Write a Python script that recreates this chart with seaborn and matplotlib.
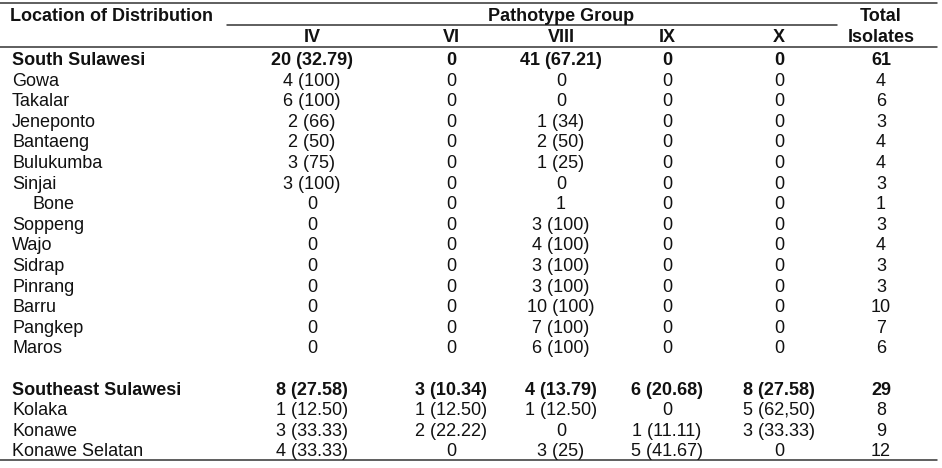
import matplotlib
matplotlib.use("Agg")
import matplotlib.pyplot as plt
import seaborn as sns

# table data
locations = ["South Sulawesi", "Gowa", "Takalar", "Jeneponto", "Bantaeng", "Bulukumba",
             "Sinjai", "Bone", "Soppeng", "Wajo", "Sidrap", "Pinrang", "Barru", "Pangkep",
             "Maros", "", "Southeast Sulawesi", "Kolaka", "Konawe", "Konawe Selatan"]
group_iv = ["20 (32.79)", "4 (100)", "6 (100)", "2 (66)", "2 (50)", "3 (75)", "3 (100)",
            "0", "0", "0", "0", "0", "0", "0", "0", "",
            "8 (27.58)", "1 (12.50)", "3 (33.33)", "4 (33.33)"]
group_vi = ["0", "0", "0", "0", "0", "0", "0", "0", "0", "0", "0", "0", "0", "0", "0", "",
            "3 (10.34)", "1 (12.50)", "2 (22.22)", "0"]
group_viii = ["41 (67.21)", "0", "0", "1 (34)", "2 (50)", "1 (25)", "0", "1", "3 (100)",
              "4 (100)", "3 (100)", "3 (100)", "10 (100)", "7 (100)", "6 (100)", "",
              "4 (13.79)", "1 (12.50)", "0", "3 (25)"]
group_ix = ["0", "0", "0", "0", "0", "0", "0", "0", "0", "0", "0", "0", "0", "0", "0", "",
            "6 (20.68)", "0", "1 (11.11)", "5 (41.67)"]
group_x = ["0", "0", "0", "0", "0", "0", "0", "0", "0", "0", "0", "0", "0", "0", "0", "",
           "8 (27.58)", "5 (62,50)", "3 (33.33)", "0"]
total_isolates = ["61", "4", "6", "3", "4", "4", "3", "1", "3", "4", "3", "3", "10", "7", "6", "",
                  "29", "8", "9", "12"]
group_labels = ["IV", "VI", "VIII", "IX", "X"]
bold_rows = ["South Sulawesi", "Southeast Sulawesi"]

sns.set_theme(style="white")
plt.rcParams["font.family"] = ["Liberation Sans", "DejaVu Sans"]

fig = plt.figure(figsize=(9.42, 4.68), dpi=100)
ax = fig.add_axes([0, 0, 1, 1])
ax.set_xlim(0, 942)
ax.set_ylim(468, 0)
ax.axis("off")

fs = 13
ink = "#111111"
line_c = "#333333"
col_x = [312, 451, 561, 667, 779]
total_x = 881
row0, step = 60.5, 20.6
dy = 2.5  # va="center" sits a little high

# rules
ax.plot([0, 937], [3, 3], color=line_c, lw=1.1)
ax.plot([227, 837], [24.5, 24.5], color=line_c, lw=1.1)
ax.plot([0, 937], [47, 47], color=line_c, lw=1.1)
ax.plot([0, 937], [459.5, 459.5], color=line_c, lw=1.1)

# header
ax.text(10, 14 + dy, "Location of Distribution", fontsize=fs, fontweight="bold", color=ink, va="center")
ax.text(col_x[2], 14 + dy, "Pathotype Group", fontsize=fs, fontweight="bold", color=ink, ha="center", va="center")
ax.text(total_x, 14 + dy, "Total", fontsize=fs, fontweight="bold", color=ink, ha="center", va="center")
ax.text(total_x, 35 + dy, "Isolates", fontsize=fs, fontweight="bold", color=ink, ha="center", va="center")
for x, lab in zip(col_x, group_labels):
    ax.text(x, 35 + dy, lab, fontsize=fs, fontweight="bold", color=ink, ha="center", va="center")

# body
columns = [group_iv, group_vi, group_viii, group_ix, group_x]
for i, loc in enumerate(locations):
    y = row0 + i * step
    weight = "bold" if loc in bold_rows else "normal"
    lx = 32 if loc == "Bone" else 12
    ax.text(lx, y, loc, fontsize=fs, fontweight=weight, color=ink, va="center")
    for x, col in zip(col_x, columns):
        ax.text(x, y, col[i], fontsize=fs, fontweight=weight, color=ink, ha="center", va="center")
    ax.text(total_x, y, total_isolates[i], fontsize=fs, fontweight=weight, color=ink, ha="center", va="center")

fig.savefig("out.png", dpi=100)
